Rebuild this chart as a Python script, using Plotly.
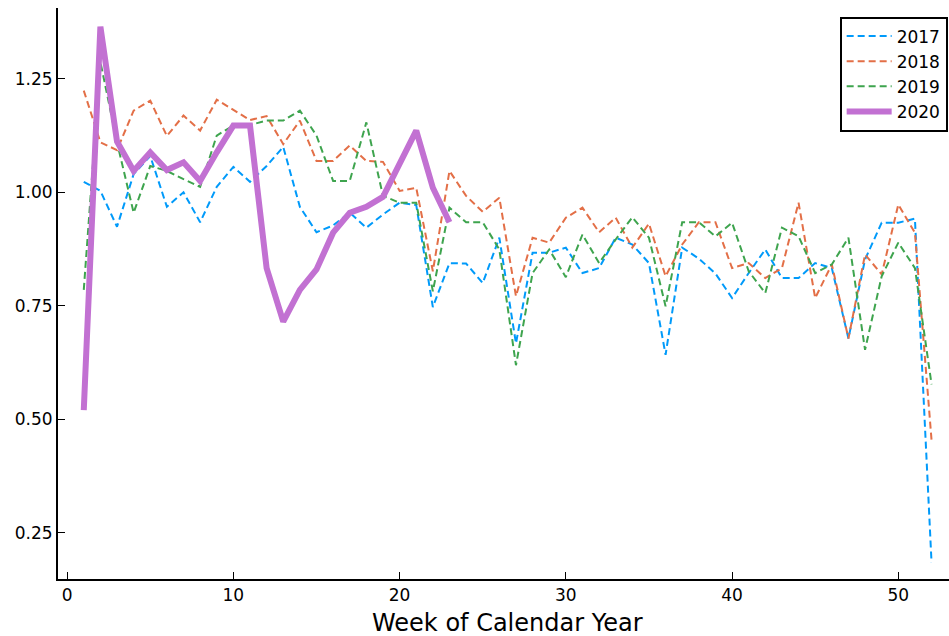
import plotly.graph_objects as go

weeks = list(range(1, 53))
weeks_2020 = list(range(1, 24))

y2017 = [1.023, 1.003, 0.924, 1.040, 1.080, 0.968, 1.000, 0.934, 1.012, 1.056,
         1.023, 1.058, 1.100, 0.968, 0.912, 0.927, 0.955, 0.922, 0.951, 0.977,
         0.972, 0.747, 0.844, 0.843, 0.800, 0.900, 0.667, 0.867, 0.867, 0.878,
         0.822, 0.833, 0.900, 0.885, 0.844, 0.642, 0.878, 0.854, 0.821, 0.767,
         0.822, 0.874, 0.811, 0.811, 0.844, 0.833, 0.678, 0.852, 0.933, 0.933,
         0.942, 0.184]
y2018 = [1.224, 1.110, 1.093, 1.180, 1.202, 1.124, 1.169, 1.136, 1.204, 1.182,
         1.159, 1.168, 1.106, 1.158, 1.069, 1.069, 1.103, 1.069, 1.067, 1.003,
         1.010, 0.826, 1.047, 0.992, 0.957, 0.988, 0.771, 0.900, 0.889, 0.944,
         0.966, 0.912, 0.944, 0.878, 0.931, 0.815, 0.885, 0.934, 0.934, 0.833,
         0.844, 0.811, 0.833, 0.977, 0.767, 0.841, 0.678, 0.863, 0.819, 0.973,
         0.911, 0.454]
y2019 = [0.785, 1.287, 1.110, 0.955, 1.058, 1.047, 1.029, 1.012, 1.125, 1.147,
         1.148, 1.158, 1.158, 1.180, 1.125, 1.025, 1.025, 1.154, 0.992, 0.977,
         0.977, 0.782, 0.966, 0.934, 0.934, 0.874, 0.619, 0.822, 0.874, 0.813,
         0.907, 0.844, 0.896, 0.945, 0.900, 0.749, 0.934, 0.934, 0.903, 0.933,
         0.826, 0.778, 0.922, 0.903, 0.822, 0.841, 0.900, 0.653, 0.815, 0.889,
         0.833, 0.577]
y2020 = [0.520, 1.365, 1.112, 1.047, 1.088, 1.049, 1.066, 1.025, 1.088, 1.147,
         1.147, 0.833, 0.715, 0.785, 0.830, 0.911, 0.955, 0.968, 0.990, 1.066,
         1.136, 1.010, 0.934]

x_ticks = [0, 10, 20, 30, 40, 50]
y_ticks = [0.25, 0.50, 0.75, 1.00, 1.25]
y_tick_labels = ["0.25", "0.50", "0.75", "1.00", "1.25"]
x_title = "Week of Calendar Year"

colors = {"2017": "#009AFA", "2018": "#E36F47", "2019": "#3EA44E", "2020": "#C271D2"}
FONT = "DejaVu Sans"

fig = go.Figure()
for name, ys in [("2017", y2017), ("2018", y2018), ("2019", y2019)]:
    fig.add_trace(go.Scatter(x=weeks, y=ys, mode="lines", name=name,
                             line=dict(color=colors[name], width=2, dash="7px,4px")))
fig.add_trace(go.Scatter(x=weeks_2020, y=y2020, mode="lines", name="2020",
                         line=dict(color=colors["2020"], width=6)))

fig.update_layout(
    width=949, height=636,
    margin=dict(l=58, r=0, t=8, b=57),
    paper_bgcolor="white", plot_bgcolor="white",
    font=dict(family=FONT, size=17, color="black"),
    showlegend=True,
    legend=dict(x=0.9985, xanchor="right", y=0.985, yanchor="top",
                bordercolor="black", borderwidth=2, bgcolor="white",
                font=dict(family=FONT, size=17), tracegroupgap=0,
                itemwidth=45),
    xaxis=dict(range=[-0.55, 53.05], tickvals=x_ticks, ticks="inside", ticklen=7,
               tickwidth=1.2, tickcolor="black", showline=True, linecolor="black",
               linewidth=2, showgrid=False, zeroline=False, mirror=False,
               tickfont=dict(family=FONT, size=17)),
    yaxis=dict(range=[0.148, 1.406], tickvals=y_ticks, ticktext=y_tick_labels,
               ticks="inside", ticklen=7, tickwidth=1.2, tickcolor="black",
               showline=True, linecolor="black", linewidth=2, showgrid=False,
               zeroline=False, mirror=False, tickfont=dict(family=FONT, size=17)),
    annotations=[dict(text=x_title, xref="paper", yref="paper", x=0.505, y=0,
                      yshift=-44, xanchor="center", yanchor="middle",
                      showarrow=False, font=dict(family=FONT, size=24))],
)

fig.write_html("out.html", config={"displayModeBar": False},
               post_script="document.body.style.margin='0';document.body.style.padding='0';")
